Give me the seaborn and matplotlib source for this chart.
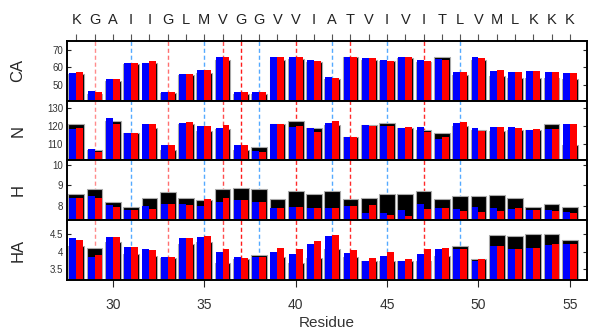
import numpy as np
import pandas as pd
import matplotlib
matplotlib.use('Agg')
import matplotlib.pyplot as plt
import seaborn as sns

sns.set_style('ticks')
plt.rcParams['font.family'] = ['Liberation Sans', 'DejaVu Sans']

residues = list(range(28, 56))
sequence = list("KGAIIGLMVGGVVIATVIVITLVMLKKK")

ca_black = [56.5, 45.0, 52.5, 61.7, 62.6, 45.3, 55.8, 57.0, 64.5, 45.1, 45.1, 64.5, 64.9, 63.0,
            53.2, 66.0, 64.5, 63.7, 65.4, 63.3, 66.2, 55.9, 64.1, 55.3, 54.2, 54.2, 53.8, 53.6]
ca_blue = [56.6, 46.4, 53.6, 62.8, 62.6, 46.2, 56.4, 58.7, 65.7, 46.2, 46.2, 66.0, 66.2, 64.3,
           54.6, 66.2, 65.6, 64.5, 66.2, 64.1, 64.9, 57.6, 66.0, 58.0, 57.2, 58.0, 57.4, 56.9]
ca_red = [57.4, 46.2, 53.6, 62.6, 63.8, 46.2, 56.4, 58.7, 65.7, 46.2, 46.2, 65.8, 66.2, 63.9,
          54.0, 66.2, 65.6, 63.9, 66.0, 63.5, 64.5, 57.6, 65.2, 58.6, 57.2, 58.0, 57.2, 56.9]

n_black = [120.8, 106.2, 122.7, 116.0, 119.0, 106.2, 121.1, 117.1, 117.9, 106.2, 107.8, 120.9, 122.5, 118.5,
           120.6, 113.8, 120.2, 121.7, 118.9, 117.5, 116.2, 119.8, 117.4, 117.0, 117.5, 117.7, 121.1, 109.1]
n_blue = [118.0, 107.2, 124.4, 115.8, 121.0, 109.4, 121.3, 119.8, 119.0, 109.0, 105.6, 120.8, 119.4, 118.9,
          121.7, 113.4, 120.2, 119.6, 118.9, 119.1, 112.6, 121.7, 118.5, 119.1, 119.3, 117.7, 118.3, 120.9]
n_red = [119.0, 105.4, 121.1, 115.8, 121.0, 109.0, 121.9, 119.8, 120.4, 109.0, 105.4, 120.8, 119.8, 116.4,
         122.5, 113.4, 120.0, 120.0, 119.2, 116.4, 113.4, 122.1, 116.8, 119.3, 118.7, 117.9, 117.9, 120.9]

h_black = [8.56, 8.80, 8.16, 7.94, 8.37, 8.67, 8.40, 8.27, 8.80, 8.88, 8.80, 8.35, 8.70, 8.59,
           8.74, 8.32, 8.40, 8.59, 8.56, 8.74, 8.34, 8.47, 8.48, 8.51, 8.37, 7.95, 8.11, 7.93]
h_blue = [8.38, 8.48, 8.03, 7.81, 7.98, 8.10, 8.10, 7.98, 8.16, 8.27, 8.16, 7.88, 7.93, 7.90,
          7.90, 7.98, 7.66, 7.66, 7.80, 8.10, 7.87, 7.85, 7.96, 7.90, 7.83, 7.80, 7.80, 7.70]
h_red = [8.38, 8.38, 7.92, 7.81, 7.84, 8.10, 8.05, 8.32, 8.38, 8.27, 8.16, 7.88, 7.93, 7.90,
         7.90, 7.98, 8.02, 7.53, 7.48, 7.82, 7.90, 7.75, 7.70, 7.75, 7.88, 7.81, 7.77, 7.66]

ha_black = [4.17, 4.11, 4.27, 3.93, 3.89, 3.83, 4.23, 4.28, 3.67, 3.79, 3.91, 3.86, 3.68, 3.83,
            4.07, 3.84, 3.74, 3.74, 3.74, 3.74, 3.88, 4.17, 3.80, 4.47, 4.45, 4.52, 4.52, 4.33]
ha_blue = [4.38, 3.84, 4.43, 4.13, 4.08, 3.85, 4.38, 4.42, 3.99, 3.85, 3.84, 3.98, 3.93, 4.23,
           4.44, 3.96, 3.74, 3.87, 3.75, 3.95, 4.07, 4.09, 3.74, 4.17, 4.07, 4.10, 4.20, 4.22]
ha_red = [4.35, 3.92, 4.42, 4.13, 4.05, 3.85, 4.38, 4.45, 4.07, 3.83, 3.86, 4.10, 4.07, 4.32,
          4.47, 4.05, 3.81, 3.98, 3.80, 4.07, 4.10, 4.09, 3.80, 4.17, 4.09, 4.10, 4.22, 4.23]

# dashed markers
red_lines = [29, 33, 36, 37, 40, 43, 47]
red_line_colors = ['#ff8c8c', '#ff7070', '#ff4d4d', '#ff1a1a', '#ff2a2a', '#ff2a2a', '#ff2a2a']
blue_lines = [31, 35, 38, 42, 45, 49]

panels = [
    ('CA', ca_black, ca_blue, ca_red, (41, 75), [50, 60, 70], ['50', '60', '70']),
    ('N', n_black, n_blue, n_red, (100.5, 134), [110, 120, 130], ['110', '120', '130']),
    ('H', h_black, h_blue, h_red, (7.3, 10.2), [8, 9, 10], ['8', '9', '10']),
    ('HA', ha_black, ha_blue, ha_red, (3.2, 4.9), [3.5, 4, 4.5], ['3.5', '4', '4.5']),
]

fig, axes = plt.subplots(4, 1, figsize=(5.89, 3.34), dpi=100)
fig.subplots_adjust(left=0.114, right=0.997, top=0.877, bottom=0.162, hspace=0)

n = len(residues)
for i, (ax, (label, black, blue, red, ylim, yticks, ylabels)) in enumerate(zip(axes, panels)):
    for x, c in zip(red_lines, red_line_colors):
        ax.axvline(x, color=c, ls=(0, (3, 2)), lw=1, zorder=0.5)
    for x in blue_lines:
        ax.axvline(x, color='#55aaff', ls=(0, (3, 2)), lw=1, zorder=0.5)

    sns.barplot(x=residues, y=black, native_scale=True, width=0.86, color='black', saturation=1,
                edgecolor='#aaaaaa', linewidth=0.8, errorbar=None, ax=ax)
    df = pd.DataFrame({'res': residues * 2, 'val': blue + red, 'src': ['blue'] * n + ['red'] * n})
    sns.barplot(data=df, x='res', y='val', hue='src', palette=['#0000ff', '#ff0000'], saturation=1,
                native_scale=True, width=0.76, dodge=True, errorbar=None, legend=False,
                linewidth=0, ax=ax)

    ax.set_xlim(27.5, 55.95)
    ax.set_ylim(*ylim)
    ax.set_yticks(yticks, ylabels)
    ax.tick_params(axis='y', direction='in', left=True, right=True, length=3, labelsize=7,
                   labelcolor='#333333', pad=3)
    ax.set_ylabel(label, fontsize=12)
    ax.yaxis.set_label_coords(-0.08, 0.5)
    ax.set_xlabel('')
    for s in ax.spines.values():
        s.set_visible(True)
        s.set_linewidth(1.4)
        s.set_color('black')

    if i == 0:
        ax.xaxis.tick_top()
        ax.set_xticks(residues, sequence)
        ax.tick_params(axis='x', direction='out', length=5, width=0.8, color='#555555',
                       labelsize=10.5, labelcolor='#222222', pad=5)
    elif i == 3:
        ax.set_xticks([30, 35, 40, 45, 50, 55], ['30', '35', '40', '45', '50', '55'])
        ax.tick_params(axis='x', direction='out', length=5, width=0.8, labelsize=10,
                       labelcolor='#333333', pad=8)
        ax.set_xlabel('Residue', fontsize=11, color='#333333', labelpad=3)
    else:
        ax.set_xticks([])

fig.savefig('out.png', dpi=100)
